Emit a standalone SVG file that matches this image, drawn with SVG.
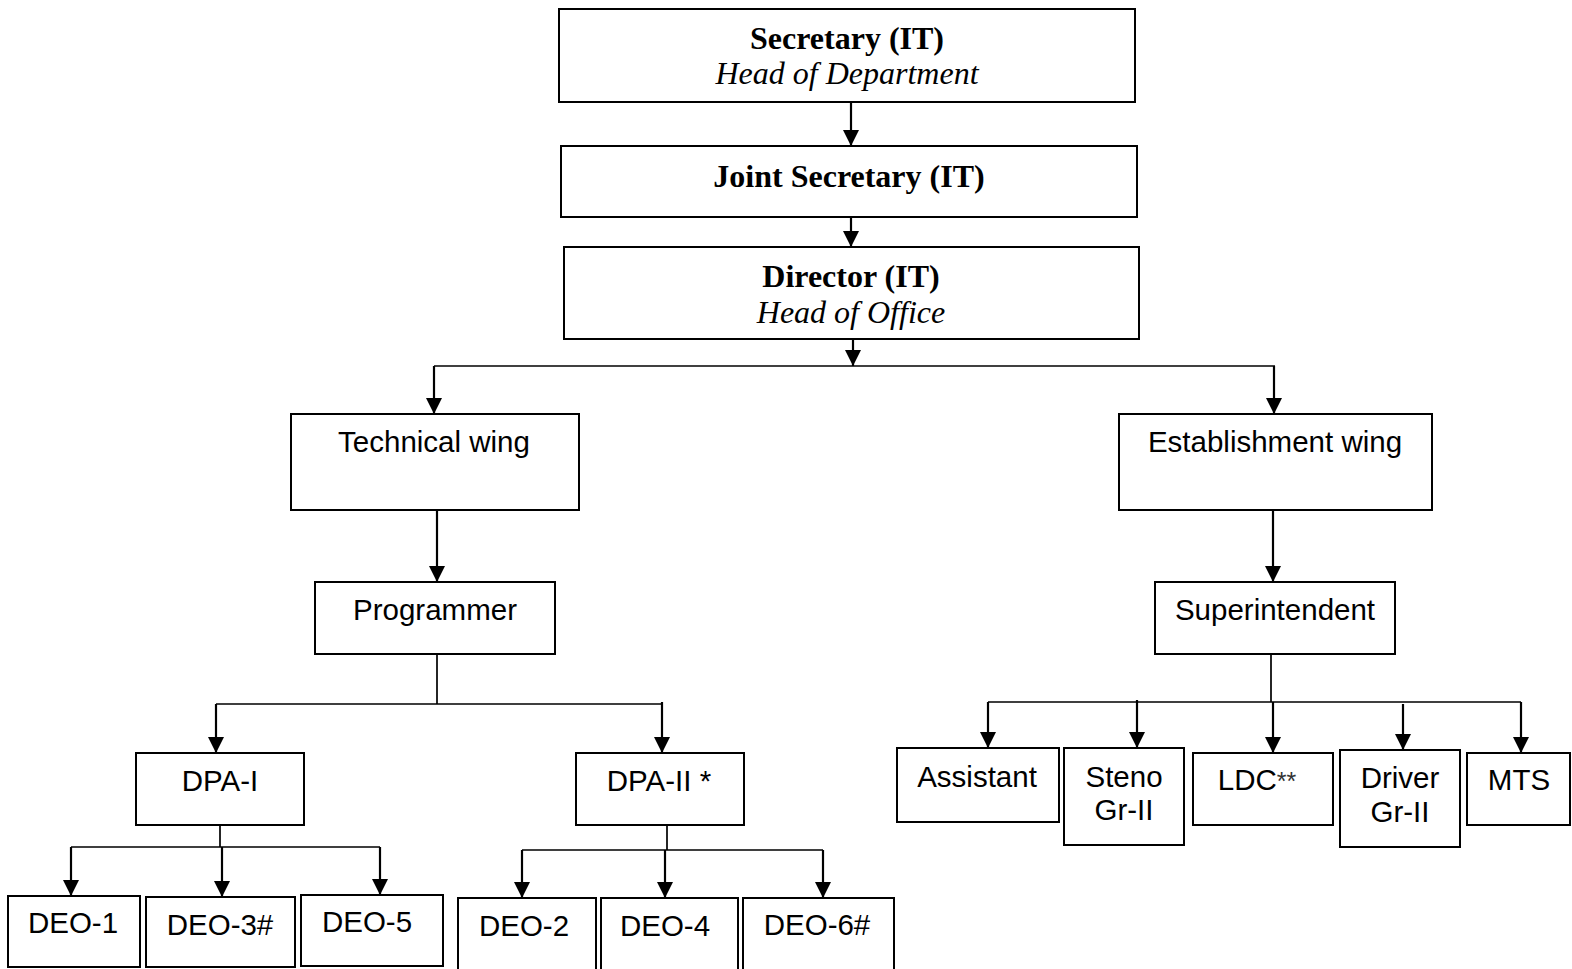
<svg xmlns="http://www.w3.org/2000/svg" width="1572" height="969" viewBox="0 0 1572 969">
<style>
.box{fill:#fff;stroke:#000;stroke-width:2}
.ln{fill:none;stroke:#000;stroke-width:2.2}
.bus{fill:none;stroke:#000;stroke-width:1.7}
.serb{font-family:"Liberation Serif",serif;font-weight:bold;font-size:32px;text-anchor:middle}
.seri{font-family:"Liberation Serif",serif;font-style:italic;font-size:32px;text-anchor:middle}
.sans{font-family:"Liberation Sans",Arial,sans-serif;font-size:29.5px;text-anchor:middle}
</style>
<defs>
<marker id="ah" markerUnits="userSpaceOnUse" markerWidth="17" markerHeight="17" refX="16" refY="8" orient="auto">
<path d="M0,0 L16,8 L0,16 z" fill="#000"/>
</marker>
</defs>
<rect width="1572" height="969" fill="#fff"/>
<g id="connectors">
<path class="ln" d="M851,102 V146" marker-end="url(#ah)"/>
<path class="ln" d="M851,217 V247" marker-end="url(#ah)"/>
<path class="ln" d="M853,339 V366" marker-end="url(#ah)"/>
<path class="bus" d="M434,366 H1275"/>
<path class="ln" d="M434,366 V414" marker-end="url(#ah)"/>
<path class="ln" d="M1274,366 V414" marker-end="url(#ah)"/>
<path class="ln" d="M437,510 V582" marker-end="url(#ah)"/>
<path class="ln" d="M1273,510 V582" marker-end="url(#ah)"/>
<path class="bus" d="M437,654 V704 M216,704 H662"/>
<path class="ln" d="M216,704 V753" marker-end="url(#ah)"/>
<path class="ln" d="M662,702 V753" marker-end="url(#ah)"/>
<path class="bus" d="M220,825 V847 M71,847 H380"/>
<path class="ln" d="M71,847 V896" marker-end="url(#ah)"/>
<path class="ln" d="M222,847 V897" marker-end="url(#ah)"/>
<path class="ln" d="M380,847 V895" marker-end="url(#ah)"/>
<path class="bus" d="M667,825 V850 M522,850 H823"/>
<path class="ln" d="M522,850 V898" marker-end="url(#ah)"/>
<path class="ln" d="M665,850 V898" marker-end="url(#ah)"/>
<path class="ln" d="M823,850 V898" marker-end="url(#ah)"/>
<path class="bus" d="M1271,654 V702 M988,702 H1521"/>
<path class="ln" d="M988,702 V748" marker-end="url(#ah)"/>
<path class="ln" d="M1137,700 V748" marker-end="url(#ah)"/>
<path class="ln" d="M1273,702 V753" marker-end="url(#ah)"/>
<path class="ln" d="M1403,704 V750" marker-end="url(#ah)"/>
<path class="ln" d="M1521,702 V753" marker-end="url(#ah)"/>
</g>
<g id="secretary"><rect class="box" x="559" y="9" width="576" height="93"/><text class="serb" x="847" y="49">Secretary (IT)</text><text class="seri" x="847" y="84">Head of Department</text></g>
<g id="joint-secretary"><rect class="box" x="561" y="146" width="576" height="71"/><text class="serb" x="849" y="187">Joint Secretary (IT)</text></g>
<g id="director"><rect class="box" x="564" y="247" width="575" height="92"/><text class="serb" x="851" y="287">Director (IT)</text><text class="seri" x="851" y="323">Head of Office</text></g>
<g id="technical-wing"><rect class="box" x="291" y="414" width="288" height="96"/><text class="sans" x="434" y="452">Technical wing</text></g>
<g id="establishment-wing"><rect class="box" x="1119" y="414" width="313" height="96"/><text class="sans" x="1275" y="452">Establishment wing</text></g>
<g id="programmer"><rect class="box" x="315" y="582" width="240" height="72"/><text class="sans" x="435" y="620">Programmer</text></g>
<g id="superintendent"><rect class="box" x="1155" y="582" width="240" height="72"/><text class="sans" x="1275" y="620">Superintendent</text></g>
<g id="dpa-1"><rect class="box" x="136" y="753" width="168" height="72"/><text class="sans" x="220" y="791">DPA-I</text></g>
<g id="dpa-2"><rect class="box" x="576" y="753" width="168" height="72"/><text class="sans" x="659" y="791">DPA-II *</text></g>
<g id="deo-1"><rect class="box" x="8" y="896" width="132" height="71"/><text class="sans" x="73" y="933">DEO-1</text></g>
<g id="deo-3"><rect class="box" x="146" y="897" width="149" height="70"/><text class="sans" x="220" y="935">DEO-3#</text></g>
<g id="deo-5"><rect class="box" x="301" y="895" width="142" height="71"/><text class="sans" x="367" y="932">DEO-5</text></g>
<g id="deo-2"><rect class="box" x="458" y="898" width="138" height="80"/><text class="sans" x="524" y="936">DEO-2</text></g>
<g id="deo-4"><rect class="box" x="601" y="898" width="137" height="80"/><text class="sans" x="665" y="936">DEO-4</text></g>
<g id="deo-6"><rect class="box" x="743" y="898" width="151" height="80"/><text class="sans" x="817" y="935">DEO-6#</text></g>
<g id="assistant"><rect class="box" x="897" y="748" width="162" height="74"/><text class="sans" x="977" y="787">Assistant</text></g>
<g id="steno"><rect class="box" x="1064" y="748" width="120" height="97"/><text class="sans" x="1124" y="787">Steno</text><text class="sans" x="1124" y="820">Gr-II</text></g>
<g id="ldc"><rect class="box" x="1193" y="753" width="140" height="72"/><text class="sans" x="1257" y="790">LDC<tspan font-size="25" fill="#333">**</tspan></text></g>
<g id="driver"><rect class="box" x="1340" y="750" width="120" height="97"/><text class="sans" x="1400" y="788">Driver</text><text class="sans" x="1400" y="822">Gr-II</text></g>
<g id="mts"><rect class="box" x="1467" y="753" width="103" height="72"/><text class="sans" x="1519" y="790">MTS</text></g>
</svg>
